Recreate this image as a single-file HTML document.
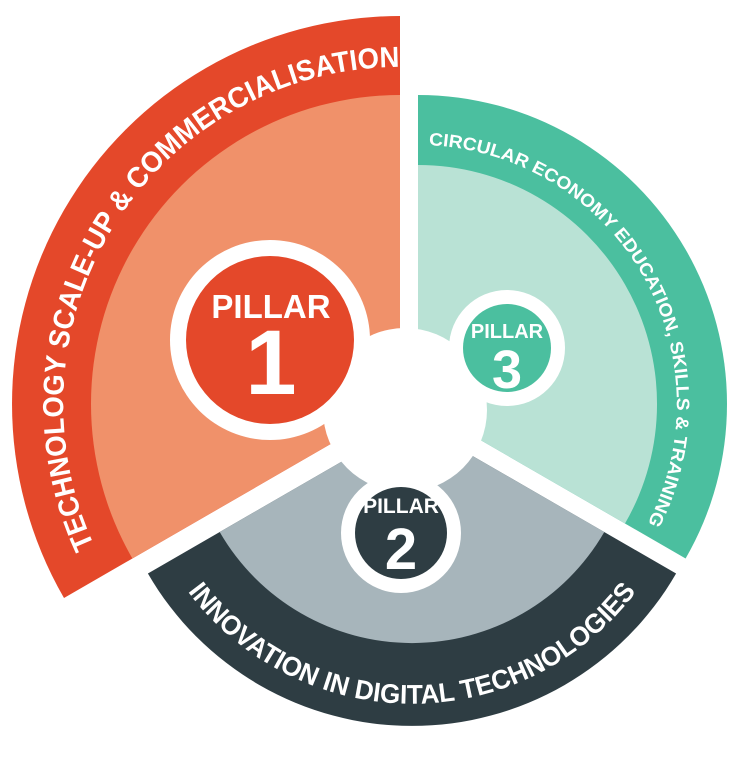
<!DOCTYPE html>
<html><head><meta charset="utf-8"><style>
html,body{margin:0;padding:0;background:#fff;}
svg{display:block;}
text{font-family:"Liberation Sans",sans-serif;font-weight:bold;fill:#fff;}
</style></head><body>
<svg width="750" height="764" viewBox="0 0 750 764" xmlns="http://www.w3.org/2000/svg">
<defs>
<path id="a1" d="M124,597 A337 337 0 0 1 458.5,72"/>
<path id="a3" d="M395,146 A259 259 0 0 1 630,552.5"/>
<path id="a2" d="M148,517 A280 280 0 0 0 676,517"/>
</defs>
<path d="M400,404 L400,16 A388 388 0 0 0 64,598 Z" fill="#e4482a"/>
<path d="M400,404 L400,95 A309 309 0 0 0 132.4,558.5 Z" fill="#f0916a"/>
<path d="M418,404 L418,95 A309 309 0 0 1 685.6,558.5 Z" fill="#4bbf9f"/>
<path d="M418,404 L418,165 A239 239 0 0 1 625,523.5 Z" fill="#b9e2d5"/>
<path d="M412,421 L147.9,573.5 A305 305 0 0 0 676.1,573.5 Z" fill="#2e3d43"/>
<path d="M412,421 L219.7,532 A222 222 0 0 0 604.3,532 Z" fill="#a7b5bb"/>
<circle cx="405" cy="410" r="82" fill="#fff"/>
<circle cx="270" cy="340" r="100" fill="#fff"/>
<circle cx="270" cy="340" r="84" fill="#e4482a"/>
<text x="271" y="318" font-size="33" text-anchor="middle">PILLAR</text>
<text x="271" y="394" font-size="92" text-anchor="middle">1</text>
<circle cx="507" cy="348" r="58" fill="#fff"/>
<circle cx="507" cy="348" r="44" fill="#4bbf9f"/>
<text x="507" y="338" font-size="20" text-anchor="middle">PILLAR</text>
<text x="507" y="388" font-size="54" text-anchor="middle">3</text>
<circle cx="401" cy="533" r="60" fill="#fff"/>
<circle cx="401" cy="533" r="46" fill="#2e3d43"/>
<text x="401" y="513" font-size="21" text-anchor="middle">PILLAR</text>
<text x="401" y="569" font-size="58" text-anchor="middle">2</text>
<text font-size="29"><textPath href="#a1" startOffset="50%" text-anchor="middle" textLength="675" lengthAdjust="spacingAndGlyphs">TECHNOLOGY SCALE-UP &amp; COMMERCIALISATION</textPath></text>
<text font-size="18"><textPath href="#a3" startOffset="50%" text-anchor="middle" textLength="520" lengthAdjust="spacingAndGlyphs">CIRCULAR ECONOMY EDUCATION, SKILLS &amp; TRAINING</textPath></text>
<text font-size="27"><textPath href="#a2" startOffset="50%" text-anchor="middle" textLength="520" lengthAdjust="spacingAndGlyphs">INNOVATION IN DIGITAL TECHNOLOGIES</textPath></text>
</svg>
</body></html>
